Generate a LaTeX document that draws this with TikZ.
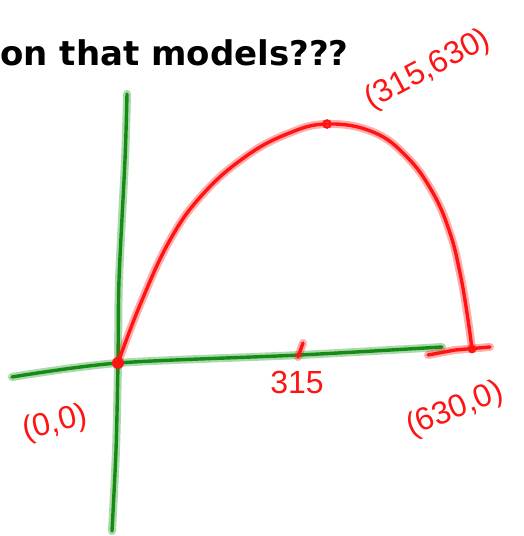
\documentclass[tikz,border=0pt]{standalone}
\usepackage{fontspec}
\setmainfont{DejaVu Sans}
\newfontfamily\handfont{Liberation Sans}
\definecolor{penred}{RGB}{255,20,20}
\definecolor{pengreen}{RGB}{20,140,20}
\tikzset{
  pen/.style={line width=3.4pt, line cap=round, line join=round},
  halo/.style={line width=8pt, line cap=round, line join=round, opacity=0.35},
  hand/.style={font=\handfont\fontsize{32}{32}\selectfont, text=penred, inner sep=0pt}
}
\begin{document}
\begin{tikzpicture}[x=1pt, y=-1pt, thick]
    \useasboundingbox (0,0) rectangle (523,536);
    \node[anchor=base west, inner sep=0pt, font=\bfseries\fontsize{34}{34}\selectfont] (question) at (0,65) {on that models???};
    % axes
    \coordinate (yTop) at (127,94);
    \coordinate (yBot) at (112,531);
    \coordinate (xLeft) at (12,377);
    \coordinate (xRight) at (442,347);
    \coordinate (origin) at (118,363);
    \foreach \s in {halo,pen} {
        \draw[\s, pengreen] plot[smooth, tension=0.5] coordinates {(yTop) (125,160) (119,280) (origin) (116,450) (yBot)};
        \draw[\s, pengreen] plot[smooth, tension=0.5] coordinates {(xLeft) (origin) (300,355) (xRight)};
    }
    % the parabola-ish curve
    \coordinate (peak) at (327,124);
    \coordinate (end) at (472,349);
    \foreach \s in {halo,pen} {
        \draw[\s, penred] plot[smooth, tension=0.7] coordinates {(origin) (140,305) (170,240) (203,194) (245,157) (287,134) (peak) (373,132) (407,157) (433,193) (450,233) (460,273) (467,313) (end)};
        \draw[\s, penred] (428,355) -- (455,350) -- (490,347);
        \draw[\s, penred] (298,357) -- (303,343);
    }
    \fill[penred] (origin) circle (6pt);
    \draw[penred, line width=2.5pt] (peak) circle (3.5pt);
    \draw[penred, line width=2.5pt] (end) circle (3pt);
    % labels
    \node[hand, rotate=28] (peakLabel) at (428,70) {(315,630)};
    \node[hand] (midLabel) at (297,382) {315};
    \node[hand, rotate=14] (originLabel) at (55,424) {(0,0)};
    \node[hand, rotate=22] (endLabel) at (455,410) {(630,0)};
\end{tikzpicture}
\end{document}
